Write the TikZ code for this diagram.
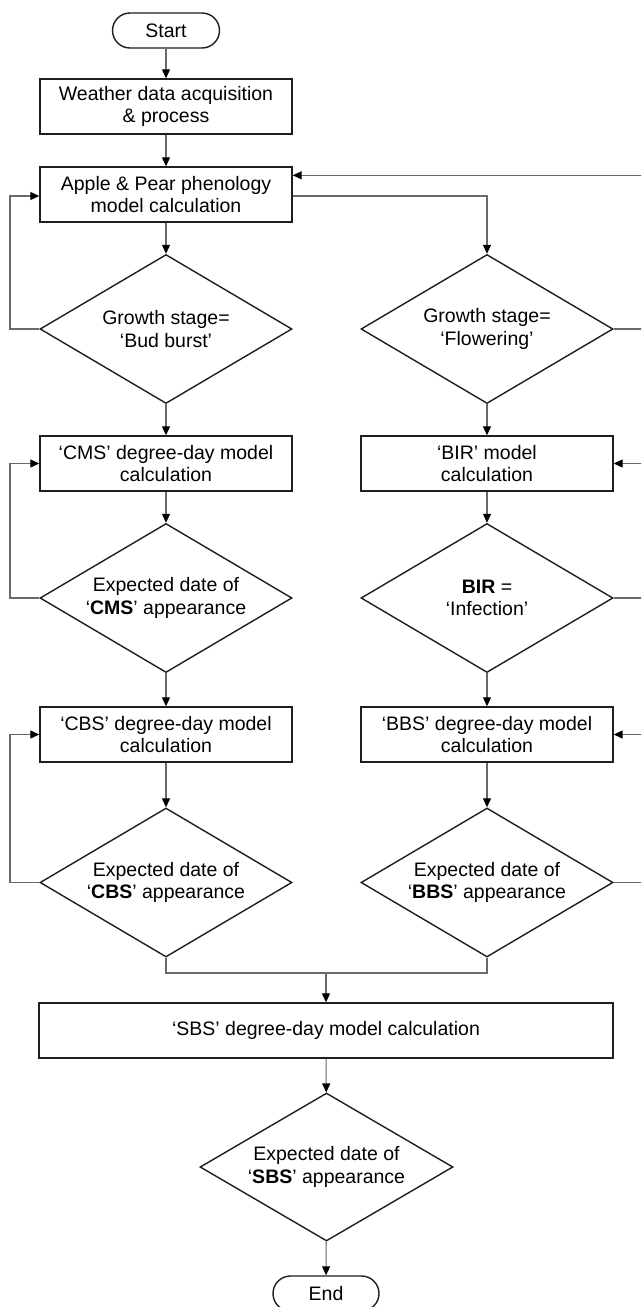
\documentclass[tikz,border=0pt]{standalone}
\usepackage{fontspec}
\setmainfont{Liberation Sans}
\usetikzlibrary{shapes.geometric,arrows.meta}
\definecolor{conn}{RGB}{105,105,105}
\definecolor{edge}{RGB}{30,30,30}
\begin{document}
\begin{tikzpicture}[x=1pt,y=-1pt,
  every node/.style={font=\fontsize{19.5}{22.5}\selectfont, align=center, inner sep=0pt},
  procbox/.style={draw=edge, line width=1.4pt, rectangle, minimum width=252pt, minimum height=55pt},
  widebox/.style={procbox, minimum width=574pt},
  decide/.style={draw=edge, line width=1.4pt, diamond, aspect=1.7, minimum width=252pt, minimum height=149pt},
  term/.style={draw=edge, line width=1.4pt, rectangle, rounded corners=17.5pt, minimum width=107pt, minimum height=35pt},
  conline/.style={draw=conn, line width=1.1pt},
  arr/.style={conline, -{Triangle[length=9pt,width=8pt,color=black]}}
]
\useasboundingbox (0,0) rectangle (641,1307);
\clip (0,0) rectangle (641,1307);
\fill[white] (0,0) rectangle (641,1307);

\node[term] (start) at (166,30.5) {Start};
\node[procbox] (weather) at (166,106.5) {Weather data acquisition\\ \& process};
\node[procbox] (apple) at (166,194.5) {Apple \& Pear phenology\\ model calculation};
\node[decide] (d1) at (166,329) {Growth stage=\\ ‘Bud burst’};
\node[decide] (d2) at (487,329) {Growth stage=\\ ‘Flowering’};
\node[procbox] (cms) at (166,463.5) {‘CMS’ degree-day model\\ calculation};
\node[procbox] (bir) at (487,463.5) {‘BIR’ model\\ calculation};
\node[decide] (d3) at (166,598) {Expected date of\\ ‘\textbf{CMS}’ appearance};
\node[decide] (d4) at (487,598) {\textbf{BIR} =\\ ‘Infection’};
\node[procbox] (cbs) at (166,734.5) {‘CBS’ degree-day model\\ calculation};
\node[procbox] (bbs) at (487,734.5) {‘BBS’ degree-day model\\ calculation};
\node[decide] (d5) at (166,882.5) {Expected date of\\ ‘\textbf{CBS}’ appearance};
\node[decide] (d6) at (487,882.5) {Expected date of\\ ‘\textbf{BBS}’ appearance};
\node[widebox] (sbs) at (326,1030.5) {‘SBS’ degree-day model calculation};
\node[decide, minimum width=253pt, minimum height=148pt] (d7) at (326.5,1167) {Expected date of\\ ‘\textbf{SBS}’ appearance};
\node[term, minimum width=106pt] (end) at (326,1293.5) {End};

\coordinate (lx) at (10,0);
\coordinate (rx) at (646,0);
\coordinate (merge) at (326,973);

% main flow
\draw[arr] (start) -- (weather);
\draw[arr] (weather) -- (apple);
\draw[arr] (apple) -- (d1);
\draw[arr] ([yshift=-1.5pt]apple.east) -| (d2.north);
\draw[arr] (d1) -- (cms);
\draw[arr] (d2) -- (bir);
\draw[arr] (cms) -- (d3);
\draw[arr] (bir) -- (d4);
\draw[arr] (d3) -- (cbs);
\draw[arr] (d4) -- (bbs);
\draw[arr] (cbs) -- (d5);
\draw[arr] (bbs) -- (d6);
\draw[conline] (d5.south) |- (merge) -| (d6.south);
\draw[arr] (merge) -- (sbs.north);
\draw[arr] (sbs) -- (d7);
\draw[arr] (d7) -- (end);

% left feedback loops
\draw[arr] (d1.west) -- (d1.west -| lx) |- ([yshift=-1.5pt]apple.west);
\draw[arr] (d3.west) -- (d3.west -| lx) |- (cms.west);
\draw[arr] (d5.west) -- (d5.west -| lx) |- (cbs.west);

% right feedback loops
\draw[arr] (d2.east) -- (d2.east -| rx) |- ([yshift=-9pt]apple.north east);
\draw[arr] (d4.east) -- (d4.east -| rx) |- (bir.east);
\draw[arr] (d6.east) -- (d6.east -| rx) |- (bbs.east);
\end{tikzpicture}
\end{document}
